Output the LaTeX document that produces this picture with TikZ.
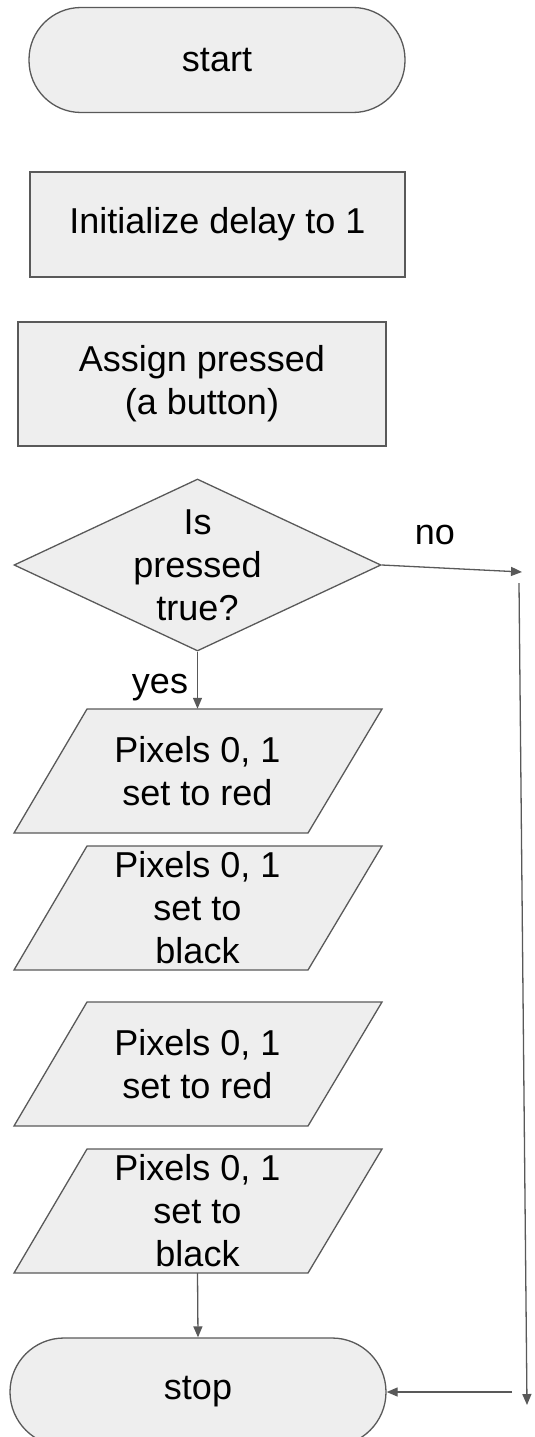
\documentclass[tikz,border=0pt]{standalone}
\usepackage{fontspec}
\setmainfont{Liberation Sans}
\usetikzlibrary{arrows.meta,shapes.geometric}
\definecolor{boxfill}{HTML}{EEEEEE}
\definecolor{boxline}{HTML}{595959}
\newcommand\parashape[1]{\filldraw[shapeline] (87,#1) -- (382,#1) -- (308,{#1+124}) -- (14,{#1+124}) -- cycle;}
\begin{document}
\begin{tikzpicture}[x=1pt,y=-1pt,
  shapeline/.style={draw=boxline,fill=boxfill,line width=1.3pt},
  txt/.style={font=\fontsize{36}{43}\selectfont,align=center,text=black},
  stadium/.style={shapeline,txt,rectangle,rounded corners=52pt,minimum width=376pt,minimum height=105pt,inner sep=0pt},
  procbox/.style={shapeline,txt,rectangle,inner sep=0pt},
  paratext/.style={txt,draw=none,rectangle,inner sep=0pt,minimum width=294pt,minimum height=124pt},
  conn/.style={draw=boxline,line width=1.3pt,-{Triangle[length=11pt,width=9pt]}},
  plainline/.style={draw=boxline,line width=1.3pt}]
\useasboundingbox (0,0) rectangle (535,1437);
\clip (0,0) rectangle (535,1437);

\node[stadium] (start) at (217,60) {start};
\node[procbox,minimum width=375pt,minimum height=105pt] (init) at (217.5,224.5) {Initialize delay to 1};
\node[procbox,minimum width=368pt,minimum height=124pt] (assign) at (202,384) {Assign pressed\\(a button)};

\node[shapeline,diamond,minimum width=367pt,minimum height=172pt,inner sep=0pt] (dec) at (197.5,565) {};
\node[txt,inner sep=0pt] (dectext) at (dec.center) {Is\\pressed\\true?};

\parashape{709}
\parashape{846}
\parashape{1002}
\parashape{1149}
\node[paratext] (p1) at (197.5,771) {Pixels 0, 1\\set to red};
\node[paratext] (p2) at (197.5,907.5) {Pixels 0, 1\\set to\\black};
\node[paratext] (p3) at (197.5,1064) {Pixels 0, 1\\set to red};
\node[paratext] (p4) at (197.5,1211) {Pixels 0, 1\\set to\\black};

\node[stadium,minimum height=108pt,rounded corners=54pt] (stop) at (198,1392) {stop};

\coordinate (noend) at (522,572);
\coordinate (vtop) at (519,583);
\coordinate (vbot) at (527,1405);
\coordinate (hstart) at (512,1392);

\draw[conn] (dec.south) -- (p1.north);
\node[txt] (yes) at (160,688) {yes};
\draw[conn] (dec.east) -- (noend);
\node[txt] (no) at (435,535) {no};
\draw[conn] (vtop) -- (vbot);
\draw[conn] (hstart) -- (stop.east);
\draw[conn] (p4.south) -- (stop.north);
\end{tikzpicture}
\end{document}
